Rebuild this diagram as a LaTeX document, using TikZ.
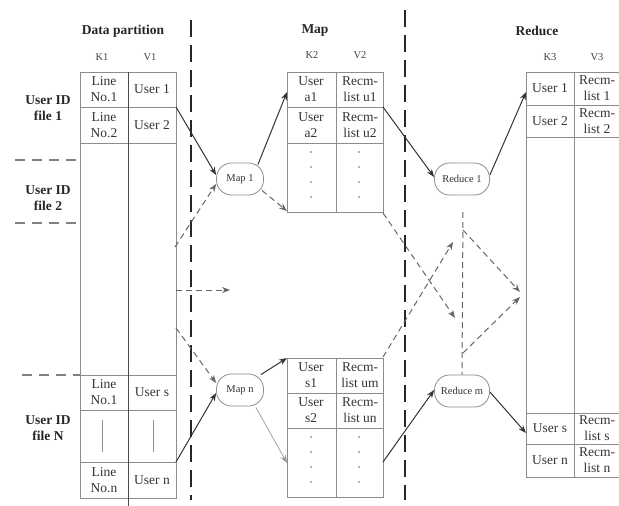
\documentclass[tikz,border=0pt]{standalone}
\usepackage{fontspec}
\setmainfont{Liberation Serif}
\usetikzlibrary{arrows.meta}
\begin{document}
\begin{tikzpicture}[x=1pt,y=-1pt,
  grid/.style={draw=black!45, line width=0.8pt},
  divider/.style={draw=black!70, line width=1pt},
  cell/.style={font=\fontsize{13.5}{16.5}\selectfont, align=center, text=black!80, inner sep=0pt},
  head/.style={font=\fontsize{13.5}{16}\selectfont\bfseries, align=center, text=black!85},
  kv/.style={font=\fontsize{10.5}{12}\selectfont, text=black!75},
  proc/.style={draw=black!45, line width=0.8pt, rounded corners=15pt, minimum height=32pt, font=\fontsize{10.5}{12}\selectfont, text=black!80, inner sep=1pt},
  sep/.style={draw=black!85, line width=1.8pt, dash pattern=on 17pt off 8pt},
  fsep/.style={draw=black!50, line width=1.2pt, dash pattern=on 10pt off 7pt},
  arr/.style={draw=black!80, line width=1pt, -{Stealth[length=8pt,width=6pt]}},
  darr/.style={draw=black!60, line width=1pt, dash pattern=on 6pt off 4pt, -{Stealth[length=8pt,width=6pt]}},
  dline/.style={draw=black!60, line width=1pt, dash pattern=on 6pt off 4pt},
  garr/.style={draw=black!40, line width=0.7pt, -{Stealth[length=8pt,width=6pt]}}
]
\useasboundingbox (0,0) rectangle (619,506);

% ---------- separators ----------
\draw[sep] (191,20) -- (191,500);
\draw[sep] (405,10) -- (405,500);

% ---------- Data partition ----------
\node[head] (hdp) at (123,31) {Data partition};
\node[kv] (k1) at (102,57) {K1};
\node[kv] (v1) at (150,57) {V1};
\draw[grid] (80,72) rectangle (176,498);
\foreach \yy in {107,143,375,410,462} \draw[grid] (80,\yy) -- (176,\yy);
\draw[divider] (128,72) -- (128,506);
\draw[grid] (102,420) -- (102,452);
\draw[grid] (153,420) -- (153,452);
\node[cell] (l1k) at (104,89) {Line\\No.1};
\node[cell] (l1v) at (152,89) {User 1};
\node[cell] (l2k) at (104,125) {Line\\No.2};
\node[cell] (l2v) at (152,125) {User 2};
\node[cell] (lsk) at (104,392) {Line\\No.1};
\node[cell] (lsv) at (152,392) {User s};
\node[cell] (lnk) at (104,480) {Line\\No.n};
\node[cell] (lnv) at (152,480) {User n};

\node[head] (f1) at (48,108) {User ID\\file 1};
\node[head] (f2) at (48,198) {User ID\\file 2};
\node[head] (fn) at (48,428) {User ID\\file N};
\draw[fsep] (15,160) -- (80,160);
\draw[fsep] (15,223) -- (80,223);
\draw[fsep] (22,375) -- (80,375);

% ---------- Map ----------
\node[head] (hmap) at (315,31) {Map};
\node[kv] (k2) at (312,55) {K2};
\node[kv] (v2) at (360,55) {V2};
\draw[grid] (287,72) rectangle (383,212);
\draw[grid] (287,107) -- (383,107);
\draw[grid] (287,143) -- (383,143);
\draw[grid] (336,72) -- (336,212);
\node[cell] (ua1) at (311,89) {User\\a1};
\node[cell] (ru1) at (360,89) {Recm-\\list u1};
\node[cell] (ua2) at (311,125) {User\\a2};
\node[cell] (ru2) at (360,125) {Recm-\\list u2};
\foreach \yy in {152,167,182,197} {
  \fill[black!60] (311,\yy) circle (0.9pt);
  \fill[black!60] (359,\yy) circle (0.9pt);
}
\draw[grid] (287,358) rectangle (383,497);
\draw[grid] (287,393) -- (383,393);
\draw[grid] (287,428) -- (383,428);
\draw[grid] (336,358) -- (336,497);
\node[cell] (us1) at (311,375) {User\\s1};
\node[cell] (rum) at (360,375) {Recm-\\list um};
\node[cell] (us2) at (311,410) {User\\s2};
\node[cell] (run) at (360,410) {Recm-\\list un};
\foreach \yy in {437,452,467,482} {
  \fill[black!60] (311,\yy) circle (0.9pt);
  \fill[black!60] (359,\yy) circle (0.9pt);
}

\node[proc, minimum width=47pt] (map1) at (240,179) {Map 1};
\node[proc, minimum width=47pt] (mapn) at (240,390) {Map n};

% ---------- Reduce ----------
\node[head] (hred) at (537,31) {Reduce};
\node[kv] (k3) at (550,57) {K3};
\node[kv] (v3) at (597,57) {V3};
\draw[grid] (619,72) -- (526,72) -- (526,477) -- (619,477);
\foreach \yy in {105,137,413,444} \draw[grid] (526,\yy) -- (619,\yy);
\draw[grid] (574,72) -- (574,477);
\node[cell] (r1k) at (550,88) {User 1};
\node[cell] (r1v) at (597,88) {Recm-\\list 1};
\node[cell] (r2k) at (550,121) {User 2};
\node[cell] (r2v) at (597,121) {Recm-\\list 2};
\node[cell] (rsk) at (550,428) {User s};
\node[cell] (rsv) at (597,428) {Recm-\\list s};
\node[cell] (rnk) at (550,460) {User n};
\node[cell] (rnv) at (597,460) {Recm-\\list n};

\node[proc, minimum width=55pt] (red1) at (462,179) {Reduce 1};
\node[proc, minimum width=55pt] (redm) at (462,391) {Reduce m};

% ---------- connector end points ----------
\coordinate (a1) at (176,107);
\coordinate (a2) at (175,247);
\coordinate (a3) at (176,328);
\coordinate (a4) at (176,462);
\coordinate (a5) at (176,290);
\coordinate (a5e) at (230,290);
\coordinate (b1) at (287,92);
\coordinate (b2) at (287,211);
\coordinate (b3) at (287,358);
\coordinate (b4) at (287,463);
\coordinate (c1) at (383,107);
\coordinate (c2) at (383,213);
\coordinate (c2e) at (455,318);
\coordinate (c3) at (383,357);
\coordinate (c3e) at (453,242);
\coordinate (c4) at (383,462);
\coordinate (d1) at (526,92);
\coordinate (d2) at (526,433);
\coordinate (m0) at (463,212);
\coordinate (m1) at (463,230);
\coordinate (m2) at (463,353);
\coordinate (e1) at (520,292);
\coordinate (e2) at (520,297);

% ---------- arrows ----------
\draw[arr] (a1) -- ([yshift=4pt]map1.west);
\draw[darr] (a2) -- ([yshift=-5pt]map1.west);
\draw[arr] ([xshift=-6pt,yshift=-2pt]map1.north east) -- (b1);
\draw[darr] ([xshift=-2pt,yshift=5pt]map1.south east) -- (b2);
\draw[darr] (a3) -- ([yshift=7pt]mapn.west);
\draw[arr] (a4) -- ([yshift=-3pt]mapn.west);
\draw[arr] ([xshift=-3pt,yshift=-1pt]mapn.north east) -- (b3);
\draw[garr] ([xshift=-8pt,yshift=-1pt]mapn.south east) -- (b4);
\draw[darr] (a5) -- (a5e);

\draw[arr] (c1) -- ([yshift=2pt]red1.west);
\draw[darr] (c2) -- (c2e);
\draw[darr] (c3) -- (c3e);
\draw[arr] (c4) -- ([yshift=1pt]redm.west);
\draw[arr] ([yshift=4pt]red1.east) -- (d1);
\draw[arr] ([yshift=-1pt]redm.east) -- (d2);

\draw[dline] (m0) -- (redm.north);
\draw[darr] (m1) -- (e1);
\draw[darr] (m2) -- (e2);
\end{tikzpicture}
\end{document}
